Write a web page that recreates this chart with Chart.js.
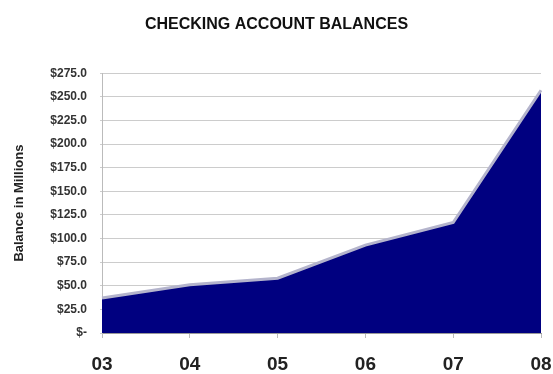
<!DOCTYPE html>
<html>
<head>
<meta charset="utf-8">
<title>Checking Account Balances</title>
<script src="https://cdn.jsdelivr.net/npm/chart.js@4.4.1/dist/chart.umd.min.js"></script>
<style>
    html, body { margin: 0; padding: 0; background: #fff; }
    #chart { display: block; }
</style>
</head>
<body>
<canvas id="chart" width="553" height="374"></canvas>
<script>
// years and balances (millions of dollars)
const years = ['03', '04', '05', '06', '07', '08'];
const balances = [37, 51, 58, 93, 117, 257];

const yMin = 0;
const yMax = 275;
const yStep = 25;

function moneyLabel(value) {
    if (value === 0) return '$-';
    return '$' + value.toFixed(1);
}

const ctx = document.getElementById('chart').getContext('2d');

new Chart(ctx, {
    type: 'line',
    data: {
        labels: years,
        datasets: [{
            label: 'Balance',
            data: balances,
            fill: 'origin',
            backgroundColor: '#000080',
            borderColor: '#b4b4cc',
            borderWidth: 3,
            tension: 0,
            pointRadius: 0,
            pointHoverRadius: 0
        }]
    },
    options: {
        responsive: false,
        animation: false,
        layout: {
            padding: { left: 0, right: 0, top: 0, bottom: 0 }
        },
        plugins: {
            legend: { display: false },
            tooltip: { enabled: false },
            title: {
                display: true,
                text: 'CHECKING ACCOUNT BALANCES',
                color: '#111',
                font: { family: 'Liberation Sans, Arial, sans-serif', size: 16, weight: 'bold', lineHeight: 1.2 },
                padding: { top: 15, bottom: 39 }
            }
        },
        scales: {
            x: {
                offset: false,
                grid: {
                    drawOnChartArea: false,
                    drawTicks: true,
                    tickLength: 5,
                    color: '#bbbbbb'
                },
                border: { display: true, color: '#999999' },
                ticks: {
                    color: '#222',
                    padding: 15,
                    maxRotation: 0,
                    autoSkip: false,
                    font: { family: 'Liberation Sans, Arial, sans-serif', size: 19, weight: 'bold' }
                },
                afterFit: function (scale) {
                    scale.height = 41;
                    // keep the last year label close to the canvas edge
                    scale.paddingLeft = 0;
                    scale.paddingRight = 12;
                }
            },
            y: {
                min: yMin,
                max: yMax,
                grid: {
                    color: '#cccccc',
                    lineWidth: 1,
                    drawTicks: true,
                    tickLength: 2
                },
                border: { display: true, color: '#bbbbbb' },
                ticks: {
                    stepSize: yStep,
                    color: '#333',
                    padding: 13,
                    callback: moneyLabel,
                    font: { family: 'Liberation Sans, Arial, sans-serif', size: 12, weight: 'bold' }
                },
                title: {
                    display: true,
                    text: 'Balance in Millions',
                    color: '#222',
                    padding: { top: 12, bottom: 0 },
                    font: { family: 'Liberation Sans, Arial, sans-serif', size: 13, weight: 'bold', lineHeight: 1.2 }
                },
                afterFit: function (scale) {
                    scale.width = 102;
                }
            }
        }
    }
});
</script>
</body>
</html>
